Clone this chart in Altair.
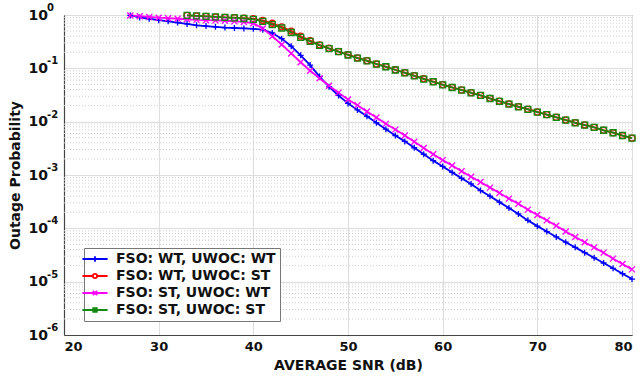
import altair as alt
import pandas as pd

# ---------------- data ----------------
snr_a = list(range(27, 81))
snr_b = list(range(33, 81))

p_wt_wt = [0.98, 0.90, 0.85, 0.80, 0.76, 0.72, 0.68, 0.64, 0.62, 0.60, 0.58, 0.57,
           0.56, 0.55, 0.53, 0.46, 0.36, 0.26, 0.175, 0.115, 0.07, 0.045, 0.031, 0.022,
           0.0166, 0.0126, 0.00955, 0.00724, 0.0055, 0.00427, 0.00324, 0.00245, 0.00186, 0.00145,
           1.12e-3, 8.7e-4, 6.8e-4, 5.1e-4, 4.0e-4, 3.1e-4, 2.4e-4, 1.86e-4, 1.41e-4, 1.10e-4,
           8.7e-5, 6.9e-5, 5.5e-5, 4.4e-5, 3.5e-5, 2.8e-5, 2.24e-5, 1.78e-5, 1.41e-5, 1.12e-5]

p_st_wt = [0.98, 0.95, 0.92, 0.89, 0.87, 0.85, 0.83, 0.81, 0.80, 0.79, 0.78, 0.76,
           0.74, 0.70, 0.56, 0.40, 0.28, 0.19, 0.13, 0.09, 0.065, 0.047, 0.035, 0.026,
           0.0204, 0.0155, 0.012, 0.0091, 0.0071, 0.0055, 0.0042, 0.0032, 0.00245, 0.0019,
           1.51e-3, 1.18e-3, 9.3e-4, 7.4e-4, 5.8e-4, 4.6e-4, 3.6e-4, 2.9e-4, 2.24e-4, 1.78e-4,
           1.41e-4, 1.12e-4, 8.7e-5, 6.9e-5, 5.5e-5, 4.4e-5, 3.5e-5, 2.7e-5, 2.14e-5, 1.7e-5]

p_st_st = [0.98, 0.96, 0.94, 0.92, 0.90, 0.88, 0.86, 0.83, 0.76, 0.66, 0.57, 0.47,
           0.38, 0.32, 0.27, 0.235, 0.205, 0.178,
           0.156, 0.138, 0.12, 0.107, 0.093, 0.082, 0.072, 0.063, 0.056, 0.049,
           0.0437, 0.039, 0.0347, 0.031, 0.0272, 0.024, 0.0214, 0.019, 0.017, 0.0151,
           0.0135, 0.012, 0.0107, 0.0095, 0.0086, 0.0078, 0.0069, 0.0062, 0.0055, 0.0049]

p_wt_st = [0.98, 0.96, 0.94, 0.92, 0.90, 0.89, 0.875, 0.85, 0.79, 0.70, 0.60, 0.50,
           0.40, 0.33, 0.275, 0.238, 0.207, 0.18,
           0.157, 0.139, 0.121, 0.108, 0.094, 0.083, 0.073, 0.064, 0.0565, 0.0495,
           0.0441, 0.0393, 0.035, 0.0312, 0.0274, 0.0242, 0.0216, 0.0192, 0.0171, 0.0152,
           0.0136, 0.0121, 0.0108, 0.0096, 0.0087, 0.0078, 0.0069, 0.0062, 0.0055, 0.0049]

series_names = ["FSO: WT, UWOC: WT", "FSO: WT, UWOC: ST",
                "FSO: ST, UWOC: WT", "FSO: ST, UWOC: ST"]
series_colors = ["#0000ff", "#ff0000", "#ff00ff", "#128a12"]
marker_shapes = ["M-1,0L1,0M0,-1L0,1", "circle", "M-1,-1L1,1M-1,1L1,-1", "square"]
legend_shapes = [
    "M-4.2,0L4.2,0M0,-0.9L0,0.9",
    "M-4.2,0L-0.7,0M0.7,0L4.2,0M0.7,0A0.7,0.7,0,1,1,-0.7,0A0.7,0.7,0,1,1,0.7,0",
    "M-4.2,0L4.2,0M-0.7,-0.7L0.7,0.7M-0.7,0.7L0.7,-0.7",
    "M-4.2,0L4.2,0M-0.6,-0.6L0.6,-0.6L0.6,0.6L-0.6,0.6Z",
]

x_ticks = [20, 30, 40, 50, 60, 70, 80]
y_ticks = [1e-6, 1e-5, 1e-4, 1e-3, 1e-2, 1e-1, 1]
y_exponents = ["-6", "-5", "-4", "-3", "-2", "-1", "0"]
y_minor = [m * 10.0 ** e for e in range(-6, 0) for m in range(2, 10)]

rows = []
for name, xs, ys in zip(series_names, [snr_a, snr_b, snr_a, snr_b],
                        [p_wt_wt, p_wt_st, p_st_wt, p_st_st]):
    for xv, yv in zip(xs, ys):
        rows.append({"snr": xv, "p": yv, "series": name})
df = pd.DataFrame(rows)

ghost_df = pd.DataFrame({"snr": [10] * 4, "p": [0.5] * 4, "lg": series_names})
minor_df = pd.DataFrame({"p": y_minor})
exp_df = pd.DataFrame({"p": y_ticks, "e": y_exponents})

FONT = "DejaVu Sans"

x_enc = alt.X("snr:Q", scale=alt.Scale(domain=[20, 80], nice=False),
              axis=alt.Axis(values=x_ticks, title="AVERAGE SNR (dB)", grid=True,
                            gridColor="#dcdcdc", gridWidth=1, ticks=False,
                            labelFont=FONT, labelFontSize=13, labelFontWeight="bold",
                            labelColor="#111", labelPadding=5,
                            titleFont=FONT, titleFontSize=14, titleFontWeight="bold",
                            titleColor="#111", titlePadding=5,
                            domainColor="#444", domainWidth=1.2))
y_scale = alt.Scale(type="log", domain=[1e-6, 1], nice=False)
y_enc = alt.Y("p:Q", scale=y_scale,
              axis=alt.Axis(values=y_ticks, labelExpr="'10'",
                            labelAlign="left", labelPadding=36, labelBaseline="middle",
                            title="Outage Probability", grid=True, gridColor="#dcdcdc",
                            gridWidth=1, ticks=False,
                            labelFont=FONT, labelFontSize=14, labelFontWeight="bold",
                            labelColor="#111",
                            titleFont=FONT, titleFontSize=14, titleFontWeight="bold",
                            titleColor="#111", titlePadding=6,
                            domainColor="#444", domainWidth=1.2))

minor_grid = alt.Chart(minor_df).mark_rule(color="#cfcfcf", strokeWidth=1,
                                           strokeDash=[1, 2]).encode(
    y=alt.Y("p:Q", scale=y_scale))

exps = alt.Chart(exp_df).mark_text(font=FONT, fontSize=10, fontWeight="bold",
                                   color="#111", align="left", baseline="middle",
                                   dy=-7, clip=False).encode(
    y=alt.Y("p:Q", scale=y_scale), x=alt.value(-17), text="e:N")

color_scale = alt.Scale(domain=series_names, range=series_colors)

lines = alt.Chart(df).mark_line(strokeWidth=1.8).encode(
    x=x_enc, y=y_enc,
    color=alt.Color("series:N", scale=color_scale, legend=None),
    detail="series:N")

points = alt.Chart(df).mark_point(filled=False, size=36, strokeWidth=1.3, opacity=1).encode(
    x="snr:Q", y="p:Q",
    color=alt.Color("series:N", scale=color_scale, legend=None),
    shape=alt.Shape("series:N", scale=alt.Scale(domain=series_names, range=marker_shapes),
                    legend=None))

legend_def = alt.Legend(orient="none", legendX=20, legendY=233, title=None,
                        fillColor="white", strokeColor="#777", padding=4,
                        labelFont=FONT, labelFontSize=14, labelFontWeight="bold",
                        labelColor="#111", labelOffset=14, rowPadding=3,
                        symbolSize=36, symbolStrokeWidth=1.8, symbolOpacity=1)

ghost = alt.Chart(ghost_df).mark_point(filled=False, clip=True, size=36).encode(
    x="snr:Q", y="p:Q",
    color=alt.Color("lg:N", scale=alt.Scale(domain=series_names, range=series_colors),
                    legend=legend_def),
    shape=alt.Shape("lg:N", scale=alt.Scale(domain=series_names, range=legend_shapes),
                    legend=legend_def))

chart = alt.layer(minor_grid, lines, points, ghost, exps).resolve_scale(
    color="independent", shape="independent"
).properties(
    width=568, height=320,
    padding={"left": 64, "top": 15, "right": 9, "bottom": 45},
    autosize=alt.AutoSizeParams(type="none"),
    background="white",
).configure_view(stroke="#888", strokeWidth=1)

chart.save("out.html", embed_options={"renderer": "svg", "actions": False})
